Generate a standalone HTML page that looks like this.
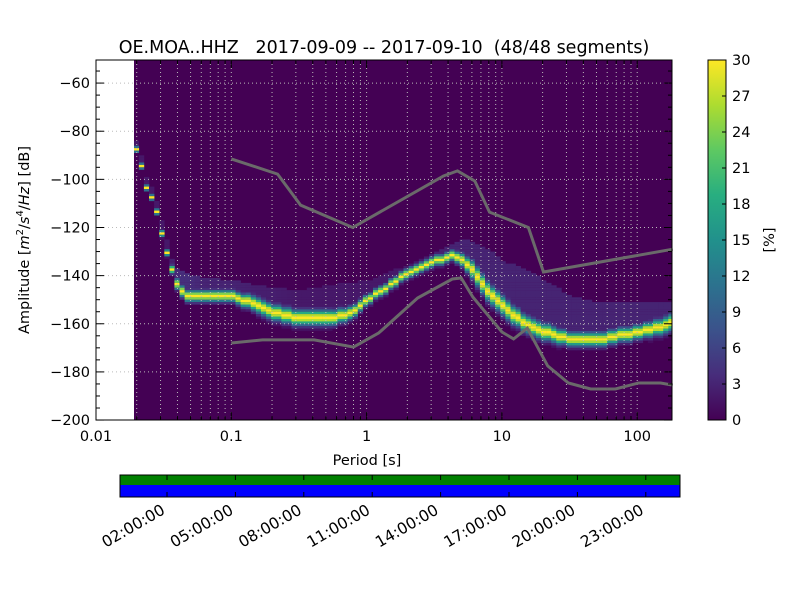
<!DOCTYPE html>
<html><head><meta charset="utf-8"><style>
body{margin:0;background:#fff}
svg text{font-family:"DejaVu Sans","Liberation Sans",sans-serif;fill:#000}
</style></head><body>
<svg id="c" width="800" height="600" viewBox="0 0 800 600" xmlns="http://www.w3.org/2000/svg">
<rect width="800" height="600" fill="#fff"/>
<text x="384" y="53" font-size="17.5" text-anchor="middle" style="white-space:pre">OE.MOA..HHZ   2017-09-09 -- 2017-09-10  (48/48 segments)</text>
<rect x="96" y="60" width="576" height="360" fill="#fff"/>
<g id="heat"></g>
<g id="grid"></g>
<g id="models"></g>
<rect x="96" y="60" width="576" height="360" fill="none" stroke="#000" stroke-width="1"/>
<g id="xt"></g>
<g id="yt"></g>
<text x="367" y="465" font-size="14.5" text-anchor="middle">Period [s]</text>
<text transform="translate(29,240) rotate(-90)" font-size="14.5" text-anchor="middle">Amplitude [<tspan font-style="italic">m</tspan><tspan font-size="10" dy="-6">2</tspan><tspan dy="6">/</tspan><tspan font-style="italic">s</tspan><tspan font-size="10" dy="-6">4</tspan><tspan dy="6">/</tspan><tspan font-style="italic">Hz</tspan>] [dB]</text>
<defs><linearGradient id="vir" x1="0" y1="1" x2="0" y2="0">
<stop offset="0" stop-color="#440154"/><stop offset="0.125" stop-color="#472d7b"/><stop offset="0.25" stop-color="#3b528b"/><stop offset="0.375" stop-color="#2c728e"/><stop offset="0.5" stop-color="#21918c"/><stop offset="0.625" stop-color="#28ae80"/><stop offset="0.75" stop-color="#5ec962"/><stop offset="0.875" stop-color="#addc30"/><stop offset="1" stop-color="#fde725"/></linearGradient></defs>
<rect x="708" y="60" width="18" height="360" fill="url(#vir)" stroke="#000"/>
<g id="cb"></g>
<text transform="translate(774,240) rotate(-90)" font-size="14.5" text-anchor="middle">[%]</text>
<g>
<rect x="120" y="475" width="560" height="10" fill="#008000"/>
<rect x="120" y="485" width="560" height="12" fill="#0000ff"/>
<rect x="120" y="475" width="560" height="22" fill="none" stroke="#000"/>
<g id="tl"></g>
</g>
</svg>
<script>
const periods=[0.019,0.021,0.022,0.024,0.026,0.029,0.033,0.036,0.04,0.045,0.06,0.1,0.15,0.2,0.3,0.5,0.7,1,2,4,5,6,8,10,15,20,30,50,100,180];
const modeDb=[-87,-95,-101,-106,-110,-121,-133,-140,-145,-148,-148,-148,-152,-155,-157,-157,-156,-149,-138,-131,-133,-138,-148,-153,-160,-163,-166,-166,-163,-159];
const sigmaDb=[0.7,0.7,0.7,0.7,0.7,0.8,0.8,1.2,1.5,1.5,1.5,1.5,2,2,2,2,1.7,1.3,1.3,1.3,1.7,2.5,2.5,2.5,2.2,2.2,1.8,1.8,1.8,2.2];
const upperDb=[-84,-91,-97,-102,-106,-116,-128,-136,-138,-139,-141,-142,-144,-145,-146,-144,-143,-142,-135,-127,-125,-126,-130,-134,-138,-142,-148,-151,-151,-151];
const faintPct=[2,2,2,2,2,2,2,3,4,4,3,3,2.5,2.5,2,2,2,2,2,3,3,3,3,3,3,3,3,3,3,3];
const hnmP=[0.1,0.22,0.325,0.79,3.7,4.7,6.3,8.1,15.7,20.3,183];
const hnmDb=[-91.5,-97.8,-110.7,-120,-98.6,-96.5,-100.7,-113.6,-120,-138.5,-129];
const lnmP=[0.1,0.17,0.41,0.8,1.23,2.38,4.3,5.0,6.1,10,12.2,15.4,21.8,31,45.3,69,102,149,183];
const lnmDb=[-168,-166.7,-166.7,-169.7,-163.8,-149.3,-141.4,-141,-148.9,-163.4,-166.3,-161.8,-177.5,-184.6,-187.1,-187.1,-184.6,-184.6,-185.5];
const yTicks=[-60,-80,-100,-120,-140,-160,-180,-200];
const xTicks=[0.01,0.1,1,10,100];
const xTickLabels=["0.01","0.1","1","10","100"];
const cbTicks=[0,3,6,9,12,15,18,21,24,27,30];
const timeLabels=["02:00:00","05:00:00","08:00:00","11:00:00","14:00:00","17:00:00","20:00:00","23:00:00"];
const timeHours=[2,5,8,11,14,17,20,23];

const NS="http://www.w3.org/2000/svg";
const xS=p=>96+(Math.log10(p)+2)*135.3;
const yS=d=>59+(-50-d)*2.407;
const tS=h=>167+(h-2)*68.4/3;
function mk(t,a,par){const e=document.createElementNS(NS,t);for(const k in a)e.setAttribute(k,a[k]);par.appendChild(e);return e;}
const stops=[[68,1,84],[71,45,123],[59,82,139],[44,114,142],[33,145,140],[40,174,128],[94,201,98],[173,220,48],[253,231,37]];
function vir(v){v=Math.max(0,Math.min(1,v))*8;const i=Math.min(7,Math.floor(v)),f=v-i;const a=stops[i],b=stops[i+1];return `rgb(${a.map((x,k)=>Math.round(x+(b[k]-x)*f)).join(',')})`;}
function interp(arr,p){const lp=Math.log10(p);for(let i=0;i<periods.length-1;i++){const a=Math.log10(periods[i]),b=Math.log10(periods[i+1]);if(lp<=b){const f=Math.max(0,(lp-a)/(b-a));return arr[i]+(arr[i+1]-arr[i])*f;}}return arr[arr.length-1];}

const heat=document.getElementById('heat');
const bg=mk('rect',{x:134,y:60,width:538,height:360,fill:vir(0)},heat);


const step=Math.log10(2)/8;
for(let lp=Math.log10(periods[0]);lp<Math.log10(periods[periods.length-1])+step;lp+=step){
  const p=Math.pow(10,lp);const x0=Math.max(134,xS(p)),x1=Math.min(672,xS(Math.pow(10,lp+step)));
  if(x1<=x0)continue;
  const m=Math.round(interp(modeDb,p)),s=interp(sigmaDb,p),u=Math.round(interp(upperDb,p)),fp=interp(faintPct,p);
  for(let d=Math.max(u,m);d>=m-Math.ceil(2.5*s);d--){
    const dd=d-m;let v=30*Math.exp(-dd*dd/(2*s*s));
    if(d>m&&v<fp)v=fp;
    if(v<1)continue;
    const r=mk('rect',{x:x0.toFixed(1),y:yS(d).toFixed(1),width:(x1-x0+0.3).toFixed(1),height:2.5,fill:vir(v/30)},heat);
    
    
  }
}
const grid=document.getElementById('grid');
for(let dec=-2;dec<=2;dec++)for(let k=1;k<10;k++){const x=xS(k*Math.pow(10,dec));if(x<=96||x>=672)continue;
  const l=mk('line',{x1:x,x2:x,y1:60,y2:420,stroke:'#bbb','stroke-width':1,'stroke-dasharray':'1,3'},grid);
  
  }
yTicks.forEach(t=>{const y=yS(t);const l=mk('line',{x1:96,x2:672,y1:y,y2:y,stroke:'#bbb','stroke-width':1,'stroke-dasharray':'1,3'},grid);
  
  });
const models=document.getElementById('models');
function line(P,D,name){const pts=P.map((p,i)=>xS(p).toFixed(1)+','+yS(D[i]).toFixed(1)).join(' ');
  const e=mk('polyline',{points:pts,fill:'none',stroke:'#6a6a6a','stroke-width':3},models);
  
  }
line(hnmP,hnmDb,'high-noise-model');line(lnmP,lnmDb,'low-noise-model');
const xt=document.getElementById('xt');
xTicks.forEach((t,i)=>{const x=xS(t);mk('line',{x1:x,x2:x,y1:420,y2:412,stroke:'#000'},xt);mk('line',{x1:x,x2:x,y1:60,y2:68,stroke:'#000'},xt);
  const tx=mk('text',{x:x,y:441,'font-size':14.5,'text-anchor':'middle'},xt);tx.textContent=xTickLabels[i];
  
  });
for(let dec=-2;dec<=2;dec++)for(let k=2;k<10;k++){const x=xS(k*Math.pow(10,dec));if(x<=96||x>=672)continue;mk('line',{x1:x,x2:x,y1:420,y2:416,stroke:'#000'},xt);mk('line',{x1:x,x2:x,y1:60,y2:64,stroke:'#000'},xt);}
const yt=document.getElementById('yt');
yTicks.forEach(t=>{const y=yS(t);mk('line',{x1:96,x2:104,y1:y,y2:y,stroke:'#000'},yt);mk('line',{x1:664,x2:672,y1:y,y2:y,stroke:'#000'},yt);
  const tx=mk('text',{x:90,y:y+5,'font-size':14.5,'text-anchor':'end'},yt);tx.textContent=String(t).replace('-','\u2212');
  
  });
for(let d=-55;d>=-200;d-=5){if(d%20===0)continue;const y=yS(d);mk('line',{x1:96,x2:100,y1:y,y2:y,stroke:'#000'},yt);mk('line',{x1:668,x2:672,y1:y,y2:y,stroke:'#000'},yt);}
const cb=document.getElementById('cb');
cbTicks.forEach(t=>{const y=420-t*12;mk('line',{x1:722,x2:726,y1:y,y2:y,stroke:'#000'},cb);
  const tx=mk('text',{x:732,y:y+5,'font-size':14.5},cb);tx.textContent=t;
  
  });
const tl=document.getElementById('tl');
timeHours.forEach((h,i)=>{const x=tS(h);mk('line',{x1:x,x2:x,y1:475,y2:480,stroke:'#000'},tl);mk('line',{x1:x,x2:x,y1:492,y2:497,stroke:'#000'},tl);
  const ax=x-1,ay=513;
  const tx=mk('text',{x:ax,y:ay,'font-size':15.5,'text-anchor':'end',transform:`rotate(-30 ${ax} ${ay})`},tl);tx.textContent=timeLabels[i];
  
  });
</script>
</body></html>
